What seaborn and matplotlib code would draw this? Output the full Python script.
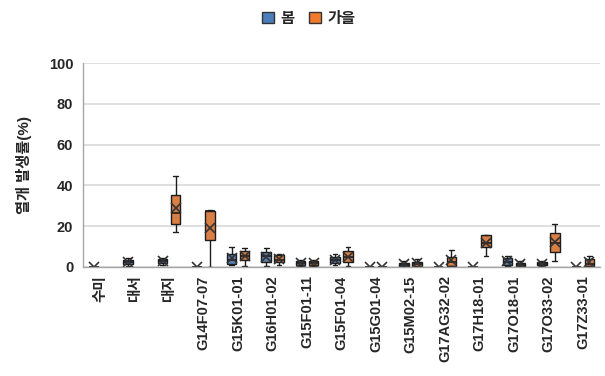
import numpy as np
import pandas as pd
import matplotlib
matplotlib.use("Agg")
import matplotlib.pyplot as plt
from matplotlib.patches import Patch
import seaborn as sns

# Cultivars / breeding lines
categories = ["수미", "대서", "대지", "G14F07-07", "G15K01-01", "G16H01-02",
              "G15F01-11", "G15F01-04", "G15G01-04", "G15M02-15", "G17AG32-02",
              "G17H18-01", "G17O18-01", "G17O33-02", "G17Z33-01"]

# Crack incidence (%) observations per cultivar, spring crop
spring = [
    [0, 0, 0, 0, 0],
    [0.5, 1.5, 2.5, 3.5, 4.5],
    [1, 2, 3, 4, 4.5],
    [0, 0, 0, 0, 0],
    [1, 1.6, 3.5, 6.4, 10],
    [0.3, 2.4, 5.5, 7.5, 9.3],
    [0.5, 1, 2, 3, 3.5],
    [0.8, 2, 3.5, 5, 6.5],
    [0, 0, 0, 0, 0],
    [0, 0.5, 1, 2, 3],
    [0, 0, 0, 0, 0],
    [0, 0, 0, 0, 0],
    [0.5, 1, 2.5, 4.3, 5.5],
    [0.3, 0.8, 1.5, 2.3, 3],
    [0, 0, 0, 0, 0],
]

# Crack incidence (%) observations per cultivar, autumn crop
autumn = [
    [],
    [],
    [17.3, 21.2, 26.4, 35.3, 44.6],
    [0, 13.3, 27.5, 27.7, 27.8],
    [0.3, 3.2, 5.5, 8, 9.5],
    [1, 2.4, 3.5, 6, 6.5],
    [0.5, 1.2, 2, 2.8, 3.5],
    [0.5, 2.4, 5, 8, 9.6],
    [0, 0, 0, 0, 0],
    [0, 0.5, 1.5, 2.5, 4],
    [0.3, 0.5, 2.5, 5, 8.5],
    [5.3, 9.8, 12, 15.6, 15.6],
    [0, 0.5, 1, 2, 3],
    [3, 7.5, 12, 16.8, 21],
    [0.3, 0.5, 1.5, 4, 5.5],
]

seasons = ["봄", "가을"]
colors = {"봄": "#4A7EBB", "가을": "#F07A2E"}

rows = []
for season, series in zip(seasons, [spring, autumn]):
    for cat, vals in zip(categories, series):
        for v in vals:
            rows.append({"cultivar": cat, "season": season, "rate": v})
df = pd.DataFrame(rows)

sns.set_theme(style="white")
plt.rcParams["font.family"] = ["Liberation Sans", "Noto Sans CJK KR"]

fig = plt.figure(figsize=(6.05, 3.76), dpi=100)
ax = fig.add_axes([0.137, 0.29, 0.855, 0.542])

edge = "#1c1c1c"
sns.boxplot(data=df, x="cultivar", y="rate", hue="season",
            order=categories, hue_order=seasons, palette=colors,
            width=0.75, gap=0.25, linewidth=1.0, linecolor=edge,
            showfliers=False, showmeans=True, whis=1.5,
            meanprops=dict(marker="x", markeredgecolor="#333333",
                           markersize=7, markeredgewidth=1.2),
            medianprops=dict(color=edge, linewidth=1.2),
            legend=False, ax=ax)

# keep every mark inside the plotting area (means at 0 are cut by the axis)
for ln in ax.lines:
    ln.set_clip_on(True)
for p in ax.patches:
    p.set_clip_on(True)

ax.set_ylim(0, 100)
ax.set_yticks(np.arange(0, 101, 20))
ax.set_xlim(-0.5, len(categories) - 0.5)
ax.yaxis.grid(True, color="#d9d9d9", linewidth=1.2)
ax.set_axisbelow(True)
for s in ["top", "right"]:
    ax.spines[s].set_visible(False)
for s in ["left", "bottom"]:
    ax.spines[s].set_color("#a6a6a6")
    ax.spines[s].set_linewidth(1.0)

ax.tick_params(axis="y", length=4, color="#a6a6a6", labelsize=10.5, pad=3)
ax.tick_params(axis="x", length=0, labelsize=10.5, pad=6)
for lab in ax.get_yticklabels():
    lab.set_fontweight("bold")
for lab in ax.get_xticklabels():
    lab.set_rotation(90)
    lab.set_fontweight("bold")

ax.set_xlabel("")
ax.set_ylabel("열개 발생률(%)", fontsize=11, fontweight="bold", labelpad=12)

handles = [Patch(facecolor=colors[s], edgecolor="#333333", linewidth=1.0, label=s)
           for s in seasons]
fig.legend(handles=handles, loc="center", bbox_to_anchor=(0.51, 0.95), ncol=2,
           frameon=False, handlelength=0.8, handleheight=0.8, handletextpad=0.4,
           columnspacing=1.0, prop={"size": 11, "weight": "bold"})

fig.savefig("out.png", dpi=100, facecolor="white")
